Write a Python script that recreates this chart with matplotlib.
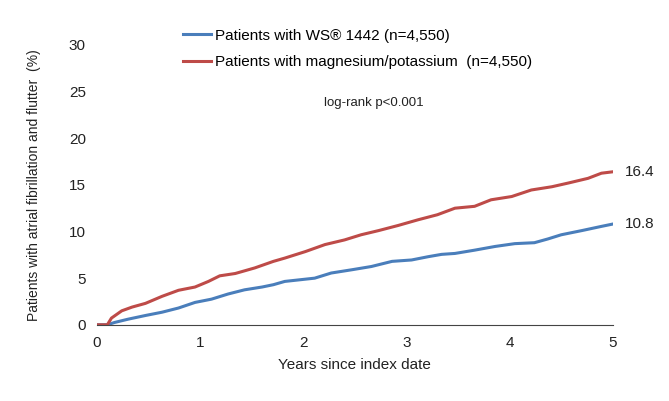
import matplotlib.pyplot as plt

plt.rcParams['font.family'] = ['Liberation Sans', 'DejaVu Sans']

# WS 1442 group: years since index date and cumulative incidence (%)
ws_years = [0, 0.1, 0.17, 0.30, 0.47, 0.63, 0.79, 0.95, 1.11, 1.27, 1.43,
            1.60, 1.71, 1.82, 2.11, 2.27, 2.47, 2.66, 2.86, 3.05, 3.21,
            3.34, 3.47, 3.66, 3.86, 4.05, 4.24, 4.37, 4.50, 4.70, 4.89, 5.0]
ws1442 = [0, 0, 0.25, 0.6, 1.0, 1.35, 1.8, 2.4, 2.75, 3.3, 3.75,
          4.05, 4.3, 4.65, 5.0, 5.55, 5.9, 6.25, 6.8, 6.95, 7.3,
          7.55, 7.65, 8.0, 8.4, 8.7, 8.8, 9.2, 9.65, 10.1, 10.55, 10.8]

# magnesium/potassium group
mg_years = [0, 0.1, 0.14, 0.24, 0.34, 0.47, 0.63, 0.79, 0.95, 1.08, 1.19,
            1.34, 1.53, 1.71, 1.82, 2.02, 2.21, 2.40, 2.56, 2.73, 2.92,
            3.11, 3.30, 3.47, 3.66, 3.82, 4.02, 4.21, 4.41, 4.57, 4.76,
            4.89, 5.0]
mgk = [0, 0, 0.72, 1.5, 1.9, 2.3, 3.05, 3.7, 4.05, 4.65, 5.25,
       5.5, 6.1, 6.8, 7.15, 7.85, 8.6, 9.1, 9.65, 10.1, 10.65,
       11.25, 11.8, 12.5, 12.7, 13.4, 13.75, 14.45, 14.8, 15.2, 15.7,
       16.25, 16.4]

labels = ['Patients with WS\u00ae 1442 (n=4,550)',
          'Patients with magnesium/potassium  (n=4,550)']
blue = '#4a7ebb'
red = '#be4b48'

fig = plt.figure(figsize=(6.69, 4.01), dpi=100)
ax = fig.add_axes([0.145, 0.19, 0.771, 0.698])

ax.plot(ws_years, ws1442, color=blue, lw=2.2, label=labels[0])
ax.plot(mg_years, mgk, color=red, lw=2.2, label=labels[1])

ax.set_xlim(0, 5)
ax.set_ylim(0, 30)
ax.set_xticks(range(0, 6))
ax.set_yticks(range(0, 31, 5))
ax.tick_params(length=0, labelsize=11, colors='#222222', pad=8)

for s in ['top', 'right', 'left']:
    ax.spines[s].set_visible(False)
ax.spines['bottom'].set_color('#444444')

ax.set_xlabel('Years since index date', fontsize=11, color='#222222', labelpad=6)
ax.set_ylabel('Patients with atrial fibrillation and flutter  (%)', fontsize=10,
              color='#222222', labelpad=20)

ax.text(5.12, ws1442[-1], '10.8', fontsize=11, va='center', color='#222222')
ax.text(5.12, mgk[-1], '16.4', fontsize=11, va='center', color='#222222')
ax.text(2.68, 23.8, 'log-rank p<0.001', fontsize=9.5, ha='center', va='center',
        color='#222222')

ax.legend(loc='upper left', bbox_to_anchor=(0.155, 1.08), frameon=False,
          fontsize=11, handlelength=1.8, handletextpad=0.3, labelspacing=0.83,
          borderaxespad=0)

fig.savefig('out.png', dpi=100)
